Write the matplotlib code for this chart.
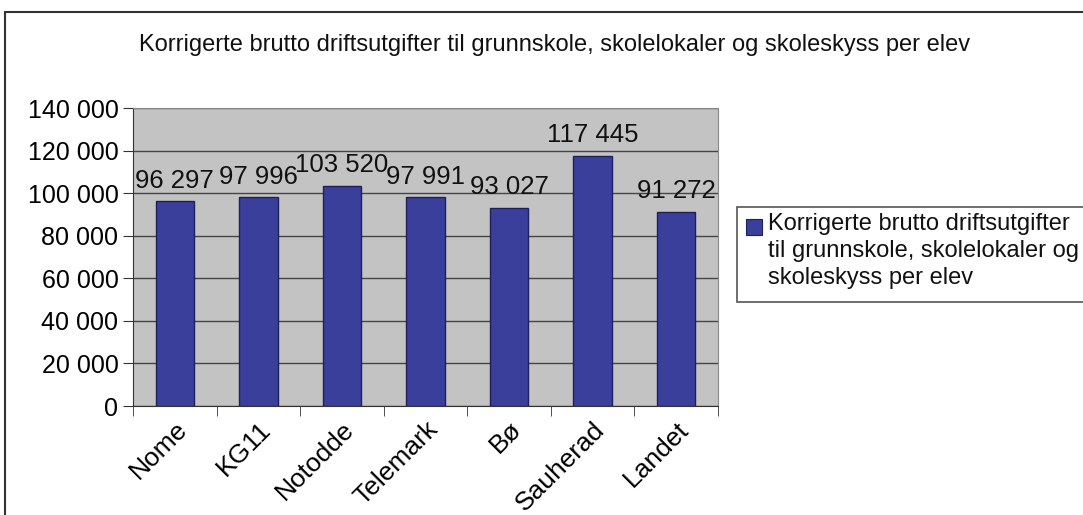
import numpy as np
import matplotlib
matplotlib.use('Agg')
import matplotlib.pyplot as plt
from matplotlib.patches import Rectangle

categories = ["Nome", "KG11", "Notodden", "Telemark", "Bø", "Sauherad", "Landet"]
tick_labels = ["Nome", "KG11", "Notodde", "Telemark", "Bø", "Sauherad", "Landet"]
values = [96297, 97996, 103520, 97991, 93027, 117445, 91272]
series_name = "Korrigerte brutto driftsutgifter\ntil grunnskole, skolelokaler og\nskoleskyss per elev"
title = "Korrigerte brutto driftsutgifter til grunnskole, skolelokaler og skoleskyss per elev"

plt.rcParams['font.family'] = ['Liberation Sans', 'DejaVu Sans']

BAR = '#3b3f9c'

def fmt(v):
    return f"{v:,}".replace(",", " ")

fig = plt.figure(figsize=(10.83, 5.15), dpi=100)

# outer chart frame (cut off at right and bottom like the scan)
fig.patches.append(Rectangle((5 / 1083, -0.05), 1.2, 1 - 12 / 515 + 0.05,
                             transform=fig.transFigure, fill=False,
                             edgecolor='#333333', linewidth=1.5))

ax = fig.add_axes([133 / 1083, 1 - 406 / 515, (718 - 133) / 1083, (406 - 108) / 515])
ax.set_facecolor('#c3c3c3')

x = np.arange(len(categories))
bars = ax.bar(x, values, width=0.46, color=BAR, edgecolor='#1e205a',
              linewidth=1, zorder=3)

for xi, v in zip(x, values):
    ax.text(xi, v + 4000, fmt(v), ha='center', va='bottom', fontsize=18.5,
            color='#111111', zorder=4)

ax.set_xlim(-0.5, len(categories) - 0.5)
ax.set_ylim(0, 140000)
ax.set_yticks(np.arange(0, 140001, 20000))
ax.set_yticklabels([fmt(t) for t in range(0, 140001, 20000)], fontsize=18)
ax.yaxis.grid(True, color='#444444', linewidth=1, zorder=0)
ax.set_axisbelow(True)

ax.set_xticks(x)
ax.set_xticklabels(tick_labels, rotation=45, ha='right', rotation_mode='anchor', fontsize=19)
ax.set_xticks(np.arange(-0.5, len(categories)), minor=True)
ax.tick_params(axis='x', which='major', length=0, pad=8)
ax.tick_params(axis='x', which='minor', length=7, color='#333333')
ax.tick_params(axis='y', length=7, color='#333333')

for s in ['top', 'right']:
    ax.spines[s].set_color('#888888')
ax.spines['left'].set_color('#333333')
ax.spines['bottom'].set_color('#333333')

fig.text(555 / 1083, 1 - 45 / 515, title, ha='center', va='center', fontsize=17, color='#111111')

# legend box, runs off the right edge like the scan
fig.patches.append(Rectangle((737 / 1083, 1 - 302 / 515), 0.4, 95 / 515,
                             transform=fig.transFigure, fill=True, facecolor='white',
                             edgecolor='#555555', linewidth=1.2))
fig.patches.append(Rectangle((746 / 1083, 1 - 235 / 515), 16 / 1083, 16 / 515,
                             transform=fig.transFigure, facecolor=BAR,
                             edgecolor='#1e205a', linewidth=0.8))
fig.text(768 / 1083, 1 - 213 / 515, series_name, ha='left', va='top',
         fontsize=17, linespacing=1.3, color='#111111')

fig.savefig("out.png", dpi=100)
